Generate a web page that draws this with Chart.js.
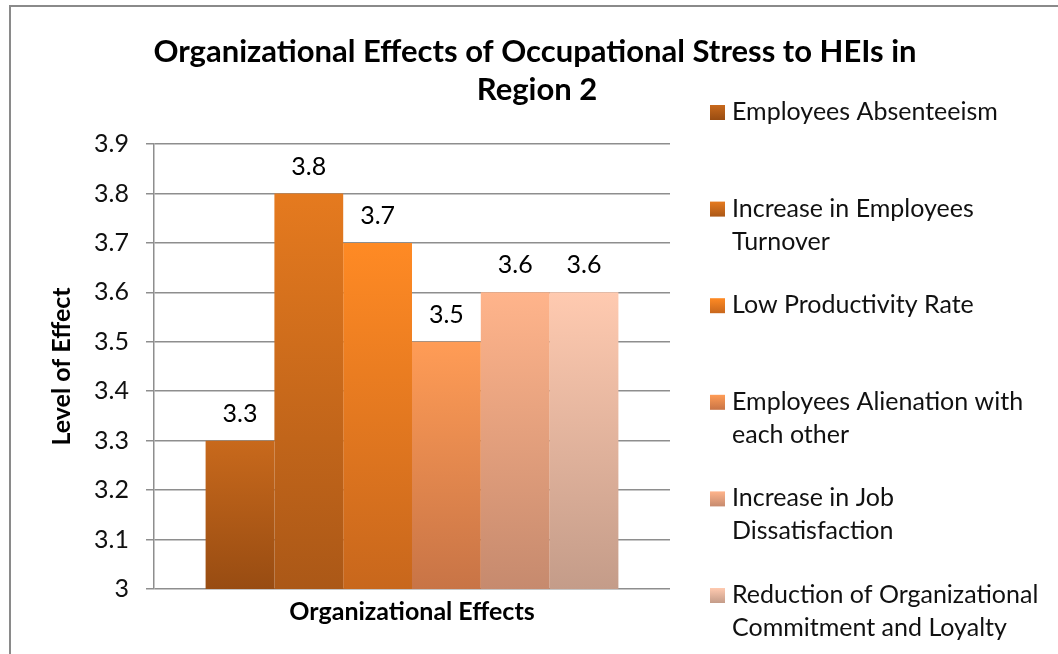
<!DOCTYPE html>
<html>
<head>
<meta charset="utf-8">
<script src="https://cdn.jsdelivr.net/npm/chart.js@4.4.0/dist/chart.umd.min.js"></script>
<style>
  html, body { margin: 0; padding: 0; background: #fff; }
  #wrap { width: 1058px; height: 654px; position: relative; }
</style>
</head>
<body>
<div id="wrap"><canvas id="myChart" width="1058" height="654"></canvas></div>
<script>
var titleLines = ['Organizational Effects of Occupational Stress to HEIs in', 'Region 2'];
var categories = [''];
var seriesNames = [
  'Employees Absenteeism',
  'Increase in Employees Turnover',
  'Low Productivity Rate',
  'Employees Alienation with each other',
  'Increase in Job Dissatisfaction',
  'Reduction of Organizational Commitment and Loyalty'
];
var seriesValues = [3.3, 3.8, 3.7, 3.5, 3.6, 3.6];
var yTicks = [3, 3.1, 3.2, 3.3, 3.4, 3.5, 3.6, 3.7, 3.8, 3.9];
// light (top) and dark (bottom) end of each bar's gradient
var topColors = ['#c8691c', '#e57a1f', '#ff8a24', '#ff9c56', '#ffb48b', '#ffcab0'];
var bottomColors = ['#984c12', '#ab5817', '#c8671c', '#c87446', '#c68a6e', '#c49c89'];

var FONT = 'Lato, "Open Sans", sans-serif';

function barFill(i) {
  return function(ctx) {
    var chart = ctx.chart, area = chart.chartArea;
    if (!area) return topColors[i];
    var top = chart.scales.y.getPixelForValue(seriesValues[i]);
    var g = chart.ctx.createLinearGradient(0, top, 0, area.bottom);
    g.addColorStop(0, topColors[i]);
    g.addColorStop(1, bottomColors[i]);
    return g;
  };
}

var datasets = seriesNames.map(function(name, i) {
  return {
    label: name,
    data: [seriesValues[i]],
    backgroundColor: barFill(i),
    borderWidth: 0,
    barPercentage: 1,
    categoryPercentage: 0.8
  };
});

// frame, title, value labels and the side legend
var extras = {
  id: 'extras',
  afterDraw: function(chart) {
    var c = chart.ctx;
    c.save();
    c.strokeStyle = '#8a8a8a';
    c.lineWidth = 2;
    c.strokeRect(10, 6, 1060, 660);

    c.fillStyle = '#000';
    c.textAlign = 'center';
    c.textBaseline = 'middle';
    c.font = 'bold 31px ' + FONT;
    c.fillText(titleLines[0], 535, 52);
    c.fillText(titleLines[1], 537, 90);

    c.font = '25px ' + FONT;
    chart.data.datasets.forEach(function(ds, i) {
      var bar = chart.getDatasetMeta(i).data[0];
      c.fillText(String(ds.data[0]), bar.x, bar.y - 27);
    });

    c.textAlign = 'left';
    var maxW = 1058 - 732 - 12;
    chart.data.datasets.forEach(function(ds, i) {
      var y0 = 112 + i * 96.6;
      var g = c.createLinearGradient(0, y0 - 7, 0, y0 + 8);
      g.addColorStop(0, topColors[i]);
      g.addColorStop(1, bottomColors[i]);
      c.fillStyle = g;
      c.fillRect(710, y0 - 7, 15, 15);
      c.fillStyle = '#111';
      var words = ds.label.split(' '), line = '', lines = [];
      words.forEach(function(w) {
        var t = line ? line + ' ' + w : w;
        if (c.measureText(t).width > maxW && line) { lines.push(line); line = w; }
        else line = t;
      });
      lines.push(line);
      lines.forEach(function(l, k) { c.fillText(l, 732, y0 + k * 33); });
    });
    c.restore();
  }
};

var ctx = document.getElementById('myChart').getContext('2d');
var myChart = new Chart(ctx, {
  type: 'bar',
  data: { labels: categories, datasets: datasets },
  options: {
    responsive: false,
    animation: false,
    layout: { padding: { top: 144, left: 14, right: 388, bottom: 10 } },
    plugins: {
      legend: { display: false },
      title: { display: false },
      tooltip: { enabled: false }
    },
    scales: {
      x: {
        grid: { display: false },
        border: { display: false },
        ticks: { display: false },
        title: {
          display: true,
          text: 'Organizational Effects',
          color: '#000',
          font: { family: FONT, size: 25, weight: 'bold' },
          padding: { top: 0, bottom: 17 }
        },
        afterFit: function(scale) { scale.height = 55; }
      },
      y: {
        min: 3,
        max: 3.9,
        afterBuildTicks: function(scale) {
          scale.ticks = yTicks.map(function(v) { return { value: v }; });
        },
        grid: { color: '#8e8e8e', lineWidth: 1.5, tickLength: 8 },
        border: { display: true, color: '#8e8e8e', width: 1.5 },
        ticks: {
          color: '#111',
          padding: 17,
          font: { family: FONT, size: 25 },
          callback: function(v) { return String(Math.round(v * 10) / 10); }
        },
        title: {
          display: true,
          text: 'Level of Effect',
          color: '#000',
          font: { family: FONT, size: 25, weight: 'bold' },
          padding: { top: 33, bottom: 0 }
        },
        afterFit: function(scale) { scale.width = 140; }
      }
    }
  },
  plugins: [extras]
});
</script>
</body>
</html>
